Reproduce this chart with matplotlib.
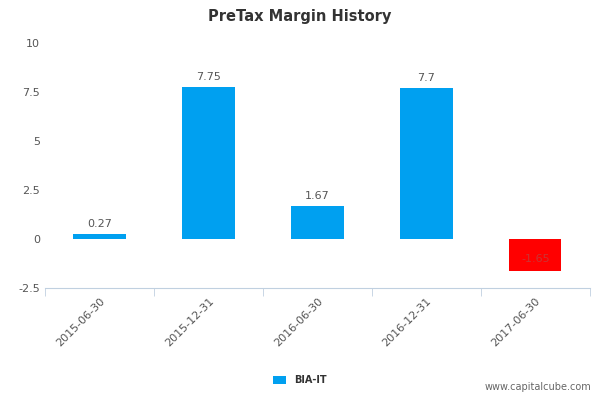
import matplotlib
matplotlib.use("Agg")
import matplotlib.pyplot as plt
import numpy as np

dates = ["2015-06-30", "2015-12-31", "2016-06-30", "2016-12-31", "2017-06-30"]
margins = [0.27, 7.75, 1.67, 7.7, -1.65]
labels = ["0.27", "7.75", "1.67", "7.7", "-1.65"]
yticks = [-2.5, 0, 2.5, 5, 7.5, 10]
ytick_labels = ["-2.5", "0", "2.5", "5", "7.5", "10"]

fig = plt.figure(figsize=(6, 4), dpi=100)
ax = fig.add_axes([0.075, 0.28, 0.908, 0.6125])

x = np.arange(len(dates))
colors = ["#00a0f0" if v >= 0 else "#ff0000" for v in margins]
ax.bar(x, margins, width=0.48, color=colors, label="BIA-IT")

for xi, v, t in zip(x, margins, labels):
    if v >= 0:
        ax.text(xi, v + 0.25, t, ha="center", va="bottom", fontsize=8, color="#555555")
    else:
        ax.text(xi, v + 0.35, t, ha="center", va="bottom", fontsize=8, color="#cc3333")

ax.set_xlim(-0.5, len(dates) - 0.5)
ax.set_ylim(-2.5, 10)
ax.set_yticks(yticks)
ax.set_yticklabels(ytick_labels, fontsize=8, color="#555555")
ax.set_xticks(x)
ax.set_xticklabels(dates, rotation=45, ha="right", rotation_mode="anchor", fontsize=8, color="#555555")
ax.set_xticks(np.arange(-0.5, len(dates)), minor=True)
ax.tick_params(axis="x", which="major", length=0, pad=6)
ax.tick_params(axis="x", which="minor", length=6, color="#c0d0e0")
ax.tick_params(axis="y", length=0)
for s in ["top", "right", "left"]:
    ax.spines[s].set_visible(False)
ax.spines["bottom"].set_color("#c0d0e0")

fig.text(0.5, 0.96, "PreTax Margin History", ha="center", va="center",
         fontsize=10.5, fontweight="semibold", color="#333333")
handles, names = ax.get_legend_handles_labels()
leg = fig.legend(handles, names, loc="center", bbox_to_anchor=(0.5, 0.05), frameon=False,
                 fontsize=7, handlelength=1.3, handleheight=0.9)
for t in leg.get_texts():
    t.set_fontweight("bold")
    t.set_color("#333333")
fig.text(0.985, 0.02, "www.capitalcube.com", ha="right", va="bottom", fontsize=7, color="#666666")

fig.savefig("out.png", dpi=100)
